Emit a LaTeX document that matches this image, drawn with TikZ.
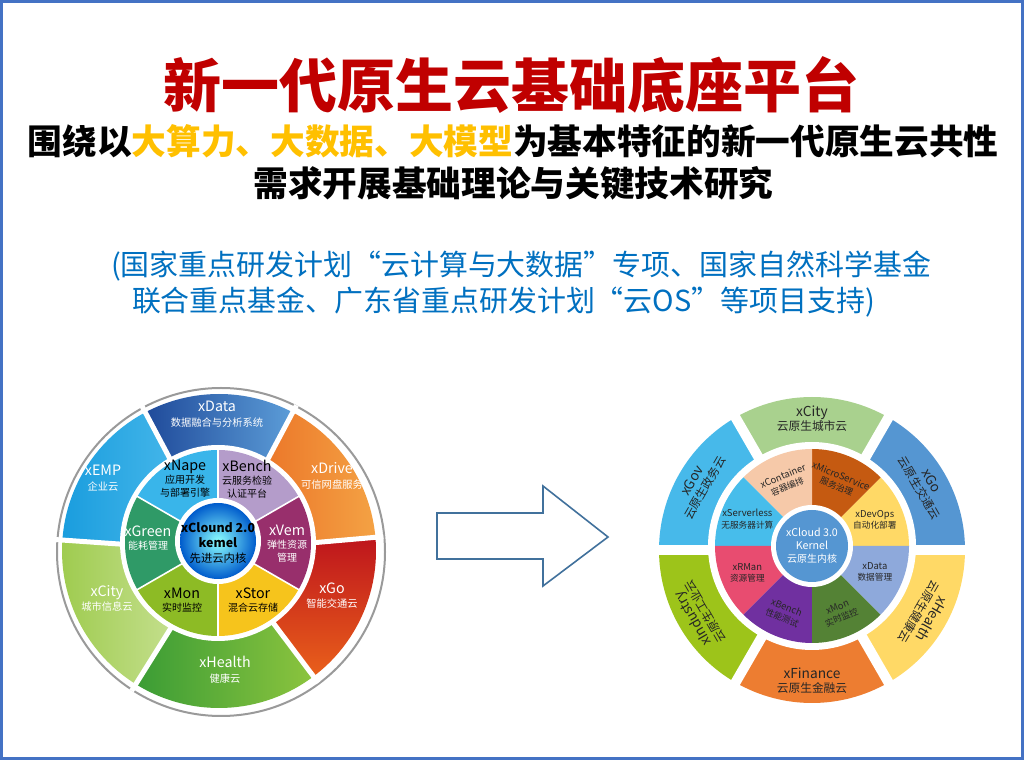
\documentclass[tikz,border=0pt]{standalone}
\usepackage{fontspec}
\setmainfont{Noto Sans CJK SC}
\definecolor{cadre}{HTML}{4472C4}
\definecolor{rougetitre}{HTML}{C00000}
\definecolor{or}{HTML}{FFC000}
\definecolor{bleunote}{HTML}{0070C0}
\definecolor{gris}{HTML}{9A9A9A}
\definecolor{texte}{HTML}{262626}
\definecolor{bleufleche}{HTML}{41719C}
%% roue de gauche
\definecolor{gDataA}{HTML}{1F4A9A}
\definecolor{gDataB}{HTML}{5C9DD8}
\definecolor{gDriveA}{HTML}{E8651E}
\definecolor{gDriveB}{HTML}{F4A244}
\definecolor{gGoA}{HTML}{BE151C}
\definecolor{gGoB}{HTML}{E9601B}
\definecolor{gHealthA}{HTML}{3A9C35}
\definecolor{gHealthB}{HTML}{8CC43E}
\definecolor{gCityA}{HTML}{9ECB4E}
\definecolor{gCityB}{HTML}{D3E7A6}
\definecolor{gEMPA}{HTML}{1A9DDE}
\definecolor{gEMPB}{HTML}{55C0EE}
\definecolor{gNape}{HTML}{39B5EA}
\definecolor{gBench}{HTML}{B49CCA}
\definecolor{gVem}{HTML}{982F6C}
\definecolor{gStor}{HTML}{F6C41C}
\definecolor{gMon}{HTML}{8DBB25}
\definecolor{gGreen}{HTML}{2F9A67}
%% roue de droite
\definecolor{dCity}{HTML}{A9D18E}
\definecolor{dGo}{HTML}{5596D2}
\definecolor{dHealth}{HTML}{FFD966}
\definecolor{dFin}{HTML}{ED7D31}
\definecolor{dIndus}{HTML}{9DC41A}
\definecolor{dGov}{HTML}{47B9EA}
\definecolor{dCont}{HTML}{F6C9A9}
\definecolor{dMicro}{HTML}{C55A11}
\definecolor{dDevOps}{HTML}{FFD966}
\definecolor{dData}{HTML}{8EA9DB}
\definecolor{dMon}{HTML}{548235}
\definecolor{dBench}{HTML}{7030A0}
\definecolor{dRMan}{HTML}{E84C70}
\definecolor{dServ}{HTML}{47BDEB}
\definecolor{dNoyau}{HTML}{5596D2}
\tikzstyle{titre} = [inner sep=0pt, text=rougetitre, font=\bfseries\fontsize{43.5}{50}\selectfont]
\tikzstyle{ligne} = [inner sep=0pt, font=\bfseries\fontsize{26}{30}\selectfont]
\tikzstyle{soutien} = [inner sep=0pt, text=bleunote, font=\fontsize{21.7}{26}\selectfont]
\tikzstyle{etiqext} = [inner sep=0pt, align=center, text=white, font=\fontsize{7.7}{11}\selectfont]
\tikzstyle{etiqint} = [inner sep=0pt, align=center, font=\fontsize{7.5}{9.7}\selectfont]
\tikzstyle{retiqext} = [inner sep=0pt, align=center, text=texte, font=\fontsize{8.8}{10.5}\selectfont]
\tikzstyle{retiqint} = [inner sep=0pt, align=center, text=texte, font=\fontsize{6.5}{8.5}\selectfont]
\tikzstyle{separ} = [white, line width=3.75pt]
\tikzstyle{grandefleche} = [draw=bleufleche, line width=1.2pt, fill=white]
\newcommand{\grand}[1]{{\fontsize{10.7}{12}\selectfont #1}}
\newcommand{\rgrand}[1]{{\fontsize{10.3}{12}\selectfont #1}}
\newcommand{\rpetit}[1]{{\fontsize{7.1}{8}\selectfont #1}}

\begin{document}
\begin{tikzpicture}[x=0.75pt, y=0.75pt]
	\useasboundingbox (0,0) rectangle (1024,760);
	\fill[white] (0,0) rectangle (1024,760);
	\draw[cadre, line width=2.25pt] (1.5,1.5) rectangle (1022.5,758.5);

%% Titres
	\node[titre] (titre) at (511,674.5) {新一代原生云基础底座平台};
	\node[ligne] (ligne1) at (513,619) {围绕以\textcolor{or}{大算力、大数据、大模型}为基本特征的新一代原生云共性};
	\node[ligne] (ligne2) at (513.5,577) {需求开展基础理论与关键技术研究};
	\node[soutien] (soutien1) at (521,494) {(国家重点研发计划“云计算与大数据”专项、国家自然科学基金};
	\node[soutien] (soutien2) at (503.5,458) {联合重点基金、广东省重点研发计划“云OS”等项目支持)};

%% Roue de gauche : anneau externe
	\coordinate (G1) at (219,209);
	\coordinate (G2) at (218,217);
	\draw[gris, line width=1.5pt] (221,208) circle (164);
	\shade[left color=gDriveA, right color=gDriveB] (G1) -- ++(5:157) arc[start angle=5, end angle=62, radius=157] -- cycle;
	\shade[left color=gDataA, right color=gDataB] (G1) -- ++(62:157) arc[start angle=62, end angle=118, radius=157] -- cycle;
	\shade[left color=gEMPA, right color=gEMPB] (G1) -- ++(118:157) arc[start angle=118, end angle=176, radius=157] -- cycle;
	\shade[left color=gCityA, right color=gCityB] (G1) -- ++(176:157) arc[start angle=176, end angle=238, radius=157] -- cycle;
	\shade[left color=gHealthA, right color=gHealthB] (G1) -- ++(238:157) arc[start angle=238, end angle=307, radius=157] -- cycle;
	\shade[top color=gGoA, bottom color=gGoB] (G1) -- ++(307:157) arc[start angle=307, end angle=365, radius=157] -- cycle;
	\foreach \a in {5,62,118,176,238,307}
		\draw[separ] (G1) -- ++(\a:165);

%% Roue de gauche : anneau interne
	\fill[white] (G2) circle (98);
	\foreach \a/\b/\coul in {-30/30/gVem, 30/90/gBench, 90/150/gNape, 150/210/gGreen, 210/270/gMon, 270/330/gStor}
		\fill[fill=\coul] (G2) -- ++(\a:93) arc[start angle=\a, end angle=\b, radius=93] -- cycle;
	\foreach \a in {30,90,150,210,270,330}
		\draw[white, line width=1.2pt] (G2) -- ++(\a:95);
	\fill[white] (218,219) circle (43);
	\shade[inner color=cyan!45!white, outer color=blue!55!cyan!80!black] (218,219) circle (38);

%% Etiquettes de gauche
	\node[etiqext] (gdata) at (217,346) {\grand{xData}\\数据融合与分析系统};
	\node[etiqext] (gemp) at (103,282) {\grand{xEMP}\\企业云};
	\node[etiqext] (gdrive) at (332,284) {\grand{xDrive}\\可信网盘服务};
	\node[etiqext] (gcity) at (107,161.5) {\grand{xCity}\\城市信息云};
	\node[etiqext] (ggo) at (332,164.5) {\grand{xGo}\\智能交通云};
	\node[etiqext] (ghealth) at (225,90) {\grand{xHealth}\\健康云};
	\node[etiqint] (gnape) at (185,281) {\grand{xNape}\\应用开发\\与部署引擎};
	\node[etiqint] (gbench) at (247,281) {\grand{xBench}\\云服务检验\\认证平台};
	\node[etiqint, text=white] (ggreen) at (148,221.5) {\grand{xGreen}\\能耗管理};
	\node[etiqint, text=white] (gvem) at (287,216.5) {\grand{xVem}\\弹性资源\\管理};
	\node[etiqint] (gmon) at (182,159.5) {\grand{xMon}\\实时监控};
	\node[etiqint] (gstor) at (253,159.5) {\grand{xStor}\\混合云存储};
	\node[inner sep=0pt, align=center, font=\bfseries\fontsize{9.3}{11.2}\selectfont] (gnoyau) at (218,217) {xClound 2.0\\kemel\\{\mdseries\fontsize{8.5}{10}\selectfont 先进云内核}};

%% Fleche
	\draw[grandefleche] (437,247) -- (543,247) -- (543,274) -- (608,223) -- (543,174) -- (543,201) -- (437,201) -- cycle;

%% Roue de droite : anneau externe
	\coordinate (D1) at (812,210);
	\coordinate (D2) at (812,214);
	\foreach \a/\b/\coul in {0/60/dGo, 60/120/dCity, 120/180/dGov, 180/240/dIndus, 240/300/dFin, 300/360/dHealth}
		\fill[fill=\coul] (D1) -- ++(\a:153) arc[start angle=\a, end angle=\b, radius=153] -- cycle;
	\foreach \a in {0,60,120,180,240,300}
		\draw[separ, line width=7.5pt] (D1) -- ++(\a:160);

%% Roue de droite : anneau interne
	\fill[white] (D2) circle (104);
	\foreach \a/\b/\coul in {0/45/dDevOps, 45/90/dMicro, 90/135/dCont, 135/180/dServ, 180/225/dRMan, 225/270/dBench, 270/315/dMon, 315/360/dData}
		\fill[fill=\coul] (D2) -- ++(\a:97) arc[start angle=\a, end angle=\b, radius=97] -- cycle;
	\fill[white] (D2) circle (41);
	\fill[dNoyau] (D2) circle (36);

%% Etiquettes de droite
	\node[retiqext] (dcity) at ([shift={(90:131)}]D1) {\rgrand{xCity}\\云原生城市云};
	\node[retiqext, rotate=-60] (dgo) at ([shift={(30:131)}]D1) {\rgrand{xGo}\\云原生交通云};
	\node[retiqext, rotate=-120] (dhealth) at ([shift={(-30:131)}]D1) {\rgrand{xHealth}\\云原生健康云};
	\node[retiqext] (dfin) at ([shift={(-90:131)}]D1) {\rgrand{xFinance}\\云原生金融云};
	\node[retiqext, rotate=120] (dindus) at ([shift={(-150:131)}]D1) {\rgrand{xIndustry}\\云原生工业云};
	\node[retiqext, rotate=60] (dgov) at ([shift={(150:131)}]D1) {\rgrand{xGov}\\云原生政务云};
	\node[retiqint, rotate=22.5] (dcont) at ([shift={(112.5:70)}]D2) {\rpetit{xContainer}\\容器编排};
	\node[retiqint, rotate=-22.5] (dmicro) at ([shift={(67.5:70)}]D2) {\rpetit{xMicroService}\\服务治理};
	\node[retiqint] (dserv) at ([shift={(157.5:70)}]D2) {\rpetit{xServerless}\\无服务器计算};
	\node[retiqint] (ddevops) at ([shift={(22.5:68)}]D2) {\rpetit{xDevOps}\\自动化部署};
	\node[retiqint] (drman) at ([shift={(-157.5:70)}]D2) {\rpetit{xRMan}\\资源管理};
	\node[retiqint] (ddata) at ([shift={(-22.5:68)}]D2) {\rpetit{xData}\\数据管理};
	\node[retiqint, rotate=-22.5] (dbench) at ([shift={(-112.5:72)}]D2) {\rpetit{xBench}\\性能测试};
	\node[retiqint, rotate=22.5] (dmon) at ([shift={(-67.5:72)}]D2) {\rpetit{xMon}\\实时监控};
	\node[inner sep=0pt, align=center, text=white, font=\fontsize{8}{9.75}\selectfont] (dnoyau) at (D2) {xCloud 3.0\\Kernel\\{\fontsize{7.5}{9}\selectfont 云原生内核}};

\end{tikzpicture}
\end{document}
